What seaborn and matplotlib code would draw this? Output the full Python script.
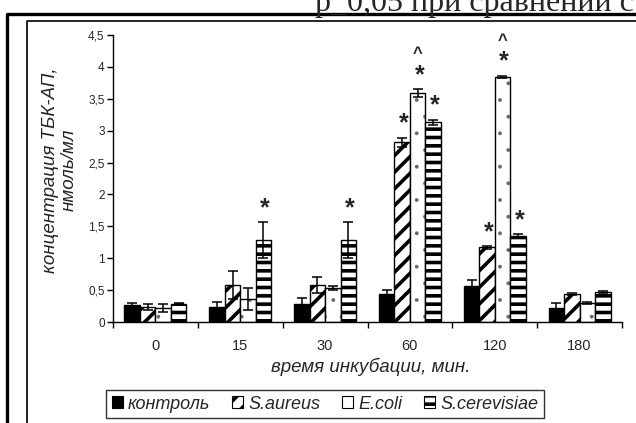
import matplotlib
matplotlib.use("Agg")
import matplotlib as mpl
import matplotlib.pyplot as plt
import seaborn as sns
import pandas as pd
import numpy as np
from matplotlib.ticker import FuncFormatter, FixedLocator
from matplotlib.patches import Rectangle
from matplotlib.lines import Line2D

# ---------------- data ----------------
times = ["0", "15", "30", "60", "120", "180"]
series = ["контроль", "S.aureus", "E.coli", "S.cerevisiae"]

control = [0.27, 0.23, 0.28, 0.44, 0.56, 0.22]
saureus = [0.24, 0.58, 0.58, 2.82, 1.17, 0.44]
ecoli = [0.22, 0.36, 0.53, 3.59, 3.84, 0.30]
scerev = [0.29, 1.29, 1.29, 3.13, 1.35, 0.47]

control_err = [0.03, 0.08, 0.10, 0.06, 0.10, 0.08]
saureus_err = [0.05, 0.22, 0.12, 0.07, 0.02, 0.01]
ecoli_err = [0.06, 0.17, 0.03, 0.06, 0.02, 0.01]
scerev_err = [0.01, 0.28, 0.28, 0.04, 0.03, 0.02]

# significance marks: (time index, series index)
stars = [(1, 3), (2, 3), (3, 1), (3, 2), (3, 3), (4, 1), (4, 2), (4, 3)]
carets = [(3, 2), (4, 2)]

header = "р_0,05 при сравнении с"

values = [control, saureus, ecoli, scerev]
errors = [control_err, saureus_err, ecoli_err, scerev_err]

df = pd.DataFrame({
    "time": [t for s in series for t in times],
    "series": [s for s in series for _ in times],
    "value": [v for vals in values for v in vals],
})

# ---------------- style ----------------
sns.set_style("white")
plt.rcParams["font.family"] = ["Liberation Sans", "DejaVu Sans"]
plt.rcParams["hatch.color"] = "black"
plt.rcParams["hatch.linewidth"] = 2.6

fig = plt.figure(figsize=(6.36, 4.23), dpi=100)
ax = fig.add_axes([113 / 636, 1 - 322 / 423, (622 - 113) / 636, (322 - 35) / 423])

sns.barplot(data=df, x="time", y="value", hue="series", order=times,
            hue_order=series, palette=["black", "white", "white", "white"],
            width=0.73, edgecolor="black", linewidth=1.0, errorbar=None,
            saturation=1, legend=False, ax=ax)

bar_conts = list(ax.containers)
hatches = [None, "//", ".", "--"]
DOT_GREY = (0.4, 0.4, 0.4, 1.0)


def thin_hatch(patch, lw=0.3):
    if hasattr(patch, "set_hatch_linewidth"):
        patch.set_hatch_linewidth(lw)
    if hasattr(patch, "_hatch_linewidth"):
        patch._hatch_linewidth = lw
    if hasattr(patch, "_hatch_color"):
        patch._hatch_color = DOT_GREY
    orig = patch.draw

    def draw(renderer, _orig=orig):
        with mpl.rc_context({"hatch.linewidth": lw, "hatch.color": DOT_GREY}):
            _orig(renderer)
    patch.draw = draw


for cont, h in zip(bar_conts, hatches):
    for p in cont.patches:
        p.set_edgecolor("black")
        if h:
            p.set_hatch(h)
            if h == ".":
                thin_hatch(p)

# error bars
for si, cont in enumerate(bar_conts):
    xs = [p.get_x() + p.get_width() / 2 for p in cont.patches]
    hs = [p.get_height() for p in cont.patches]
    ax.errorbar(xs, hs, yerr=errors[si], fmt="none", ecolor="black",
                elinewidth=1.1, capsize=3.5, capthick=1.1, zorder=5)

# significance annotations
for ti, si in stars:
    p = bar_conts[si].patches[ti]
    y = values[si][ti] + errors[si][ti] + 0.22
    ax.text(p.get_x() + p.get_width() / 2 + 0.02, y, "*", ha="center", va="center",
            fontsize=18, fontweight="bold", zorder=6)
for ti, si in carets:
    p = bar_conts[si].patches[ti]
    y = values[si][ti] + errors[si][ti] + 0.56
    ax.text(p.get_x() + p.get_width() / 2, y, "^", ha="center", va="center",
            fontsize=12, fontweight="bold", zorder=6)

# axes
ax.set_xlim(-0.5, len(times) - 0.5)
ax.set_ylim(0, 4.5)
ax.yaxis.set_major_locator(FixedLocator(np.arange(0, 4.51, 0.5)))
ax.yaxis.set_major_formatter(FuncFormatter(lambda v, _: f"{v:g}".replace(".", ",")))
ax.xaxis.set_minor_locator(FixedLocator(np.arange(-0.5, len(times), 1.0)))
ax.tick_params(axis="x", which="major", length=0, labelsize=10.5, pad=12)
ax.tick_params(axis="x", which="minor", length=4, width=1, direction="out", color="black", bottom=True)
ax.tick_params(axis="y", which="major", length=4, width=1, direction="out", color="black",
               labelsize=8.5, left=True, pad=2)
for side in ["top", "right"]:
    ax.spines[side].set_visible(False)
for side in ["left", "bottom"]:
    ax.spines[side].set_color("black")
    ax.spines[side].set_linewidth(1.0)

ax.set_xlabel("время инкубации, мин.", fontsize=13.5, style="italic")
ax.xaxis.set_label_coords((371 - 113) / 509, -(358 - 322) / 287)
ax.xaxis.label.set_va("top")
ax.set_ylabel("концентрация ТБК-АП,\nнмоль/мл", fontsize=13.5, style="italic",
              linespacing=1.15)
ax.yaxis.set_label_coords(-(113 - 78) / 509, (322 - 170) / 287)

# legend
handles = []
for cont in bar_conts:
    p = cont.patches[0]
    hatch = p.get_hatch()
    handles.append(Rectangle((0, 0), 1, 1, facecolor=p.get_facecolor(), edgecolor="black",
                             hatch=(hatch if hatch != "." else None), linewidth=0.8))
leg = fig.legend(handles, series, loc="center", bbox_to_anchor=(325 / 636, 1 - 404 / 423),
                 ncol=4, frameon=True, fancybox=False, edgecolor="black",
                 prop={"style": "italic", "size": 13}, handlelength=0.6,
                 handleheight=0.6, handletextpad=0.3, columnspacing=1.2,
                 borderpad=0.3, borderaxespad=0)
leg.get_frame().set_linewidth(1.0)

# frames and header
fig.add_artist(Line2D([7 / 636, 7 / 636, 1.0], [0.0, 1 - 14 / 423, 1 - 14 / 423],
                      transform=fig.transFigure, color="black", linewidth=2.4))
fig.add_artist(Line2D([27 / 636, 27 / 636, 1.0], [0.0, 1 - 21.5 / 423, 1 - 21.5 / 423],
                      transform=fig.transFigure, color="black", linewidth=1.2))
fig.text(315 / 636, 1 - 10.5 / 423, header, family=["Liberation Serif", "DejaVu Serif"],
         fontsize=23, ha="left", va="baseline")

fig.savefig("out.png", dpi=100)
